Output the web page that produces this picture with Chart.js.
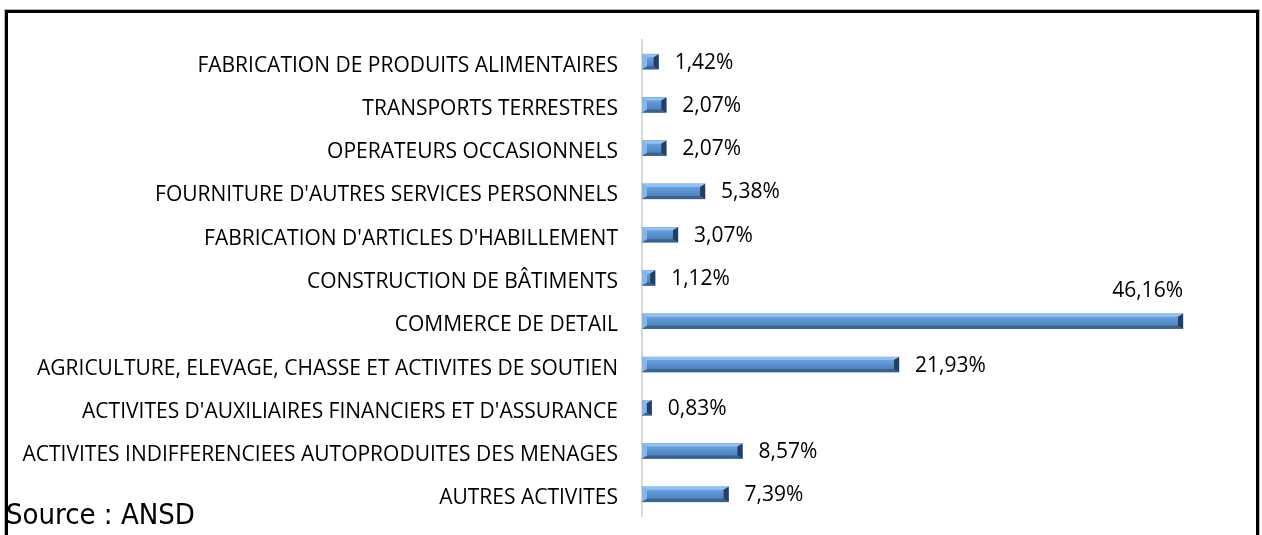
<!DOCTYPE html>
<html lang="fr">
<head>
<meta charset="utf-8">
<title>Répartition par branche d'activité</title>
<script src="https://cdn.jsdelivr.net/npm/chart.js@4"></script>
<style>
  html, body { margin: 0; padding: 0; background: #fff; }
  #wrap { position: relative; width: 1262px; height: 535px; overflow: hidden; }
  #cadre {
    position: absolute; left: 5px; top: 10px; width: 1254px; height: 600px;
    box-sizing: border-box; border: 3px solid #000; border-bottom: none;
    box-shadow: 0 0 0 1px #b5b5b5;
  }
  #chart { position: absolute; left: 0; top: 0; display: block; }
  #source {
    position: absolute; left: 6px; top: 497px;
    font-family: "DejaVu Sans Condensed", "DejaVu Sans", sans-serif;
    font-size: 29px; color: #000; white-space: nowrap;
  }
</style>
</head>
<body>
<div id="wrap">
  <div id="cadre"></div>
  <canvas id="chart" width="1262" height="535"></canvas>
  <div id="source">Source : ANSD</div>
</div>
<script>
// Branches d'activité (de haut en bas) et parts en %
const branches = [
  'FABRICATION DE PRODUITS ALIMENTAIRES',
  'TRANSPORTS TERRESTRES',
  'OPERATEURS OCCASIONNELS',
  "FOURNITURE D'AUTRES SERVICES PERSONNELS",
  "FABRICATION D'ARTICLES D'HABILLEMENT",
  'CONSTRUCTION DE BÂTIMENTS',
  'COMMERCE DE DETAIL',
  'AGRICULTURE, ELEVAGE, CHASSE ET ACTIVITES DE SOUTIEN',
  "ACTIVITES D'AUXILIAIRES FINANCIERS ET D'ASSURANCE",
  'ACTIVITES INDIFFERENCIEES AUTOPRODUITES DES MENAGES',
  'AUTRES ACTIVITES'
];
const parts = [1.42, 2.07, 2.07, 5.38, 3.07, 1.12, 46.16, 21.93, 0.83, 8.57, 7.39];

const valueFont = '21px "Open Sans", sans-serif';

function formatPct(v) {
  return v.toFixed(2).replace('.', ',') + '%';
}

// effet biseauté sur chaque barre
const biseau = {
  id: 'biseau',
  afterDatasetsDraw(chart) {
    const ctx = chart.ctx;
    chart.getDatasetMeta(0).data.forEach(bar => {
      const p = bar.getProps(['x', 'y', 'base', 'height'], true);
      const l = p.base, r = p.x, t = p.y - p.height / 2, b = p.y + p.height / 2;
      const e = Math.min(5, (r - l) / 2);
      ctx.save();
      const g = ctx.createLinearGradient(0, t, 0, b);
      g.addColorStop(0, '#74abe9');
      g.addColorStop(0.4, '#5e95d6');
      g.addColorStop(1, '#4a78aa');
      ctx.fillStyle = g;
      ctx.fillRect(l, t, r - l, b - t);
      const poly = (pts, c) => {
        ctx.beginPath();
        ctx.moveTo(pts[0][0], pts[0][1]);
        for (let i = 1; i < pts.length; i++) ctx.lineTo(pts[i][0], pts[i][1]);
        ctx.closePath();
        ctx.fillStyle = c;
        ctx.fill();
      };
      poly([[l, t], [r, t], [r - e, t + 3], [l + e, t + 3]], '#92c0f0');
      poly([[l, b], [r, b], [r - e, b - 3], [l + e, b - 3]], '#3a6290');
      poly([[l, t], [l + e, t + 3], [l + e, b - 3], [l, b]], '#84b6ec');
      poly([[r, t], [r - e, t + 3], [r - e, b - 3], [r, b]], '#25405f');
      ctx.restore();
    });
  }
};

// étiquettes de valeur en bout de barre
const etiquettes = {
  id: 'etiquettes',
  afterDatasetsDraw(chart) {
    const ctx = chart.ctx;
    ctx.save();
    ctx.font = valueFont;
    ctx.fillStyle = '#000';
    ctx.textBaseline = 'middle';
    chart.getDatasetMeta(0).data.forEach((bar, i) => {
      const txt = formatPct(parts[i]);
      const w = ctx.measureText(txt).width;
      if (bar.x + 16 + w > chart.width - 10) {
        ctx.textAlign = 'right';
        ctx.fillText(txt, bar.x, bar.y - 30);
      } else {
        ctx.textAlign = 'left';
        ctx.fillText(txt, bar.x + 16, bar.y + 1);
      }
    });
    ctx.restore();
  }
};

new Chart(document.getElementById('chart'), {
  type: 'bar',
  data: {
    labels: branches,
    datasets: [{
      data: parts,
      backgroundColor: '#5e95d6',
      barThickness: 15
    }]
  },
  options: {
    indexAxis: 'y',
    responsive: false,
    animation: false,
    layout: { padding: { top: 40, bottom: 19, left: 0, right: 34 } },
    plugins: {
      legend: { display: false },
      tooltip: { enabled: false }
    },
    scales: {
      x: {
        min: 0,
        max: 50,
        display: false
      },
      y: {
        grid: { display: false, drawTicks: false },
        border: { display: true, color: '#d9d9d9', width: 2 },
        ticks: {
          padding: 24,
          labelOffset: 4,
          color: '#000',
          font: { family: '"Open Sans", sans-serif', size: 21 }
        },
        afterFit(scale) {
          scale.width = 642;
          // le décalage des libellés ne doit pas réduire la hauteur de l'axe
          scale.paddingTop = 0;
          scale.paddingBottom = 0;
        }
      }
    }
  },
  plugins: [biseau, etiquettes]
});
</script>
</body>
</html>
